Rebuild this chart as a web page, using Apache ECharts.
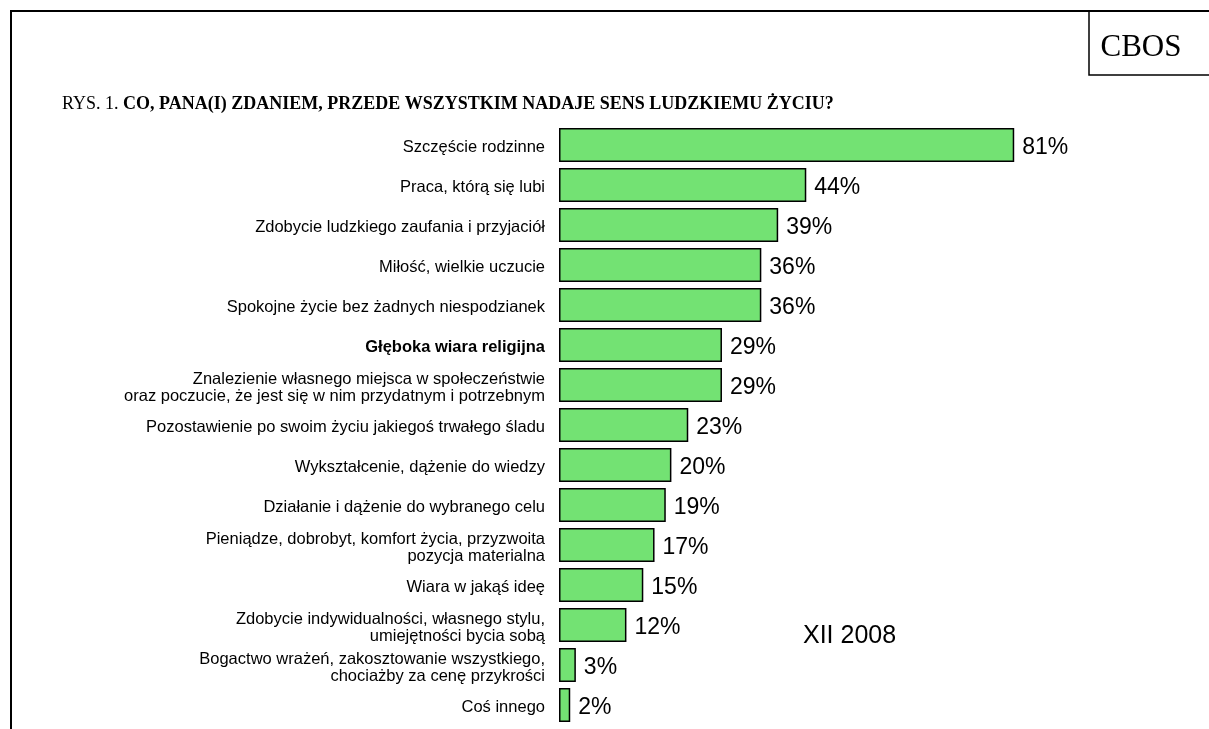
<!DOCTYPE html>
<html>
<head>
    <meta charset="utf-8">
    <title>CBOS - sens ludzkiego życia</title>
    <script src="https://cdn.jsdelivr.net/npm/echarts@6/dist/echarts.min.js"></script>
</head>
<body>

<style>
    html, body, #main {
        width: 100%;
        padding: 0;
        margin: 0;
        height: 100%;
        background: #fff;
    }
</style>

<div id="main"></div>

<script type="text/javascript">

    var categories = [
        'Szczęście rodzinne',
        'Praca, którą się lubi',
        'Zdobycie ludzkiego zaufania i przyjaciół',
        'Miłość, wielkie uczucie',
        'Spokojne życie bez żadnych niespodzianek',
        'Głęboka wiara religijna',
        'Znalezienie własnego miejsca w społeczeństwie\noraz poczucie, że jest się w nim przydatnym i potrzebnym',
        'Pozostawienie po swoim życiu jakiegoś trwałego śladu',
        'Wykształcenie, dążenie do wiedzy',
        'Działanie i dążenie do wybranego celu',
        'Pieniądze, dobrobyt, komfort życia, przyzwoita\npozycja materialna',
        'Wiara w jakąś ideę',
        'Zdobycie indywidualności, własnego stylu,\numiejętności bycia sobą',
        'Bogactwo wrażeń, zakosztowanie wszystkiego,\nchociażby za cenę przykrości',
        'Coś innego'
    ];
    var values = [81, 44, 39, 36, 36, 29, 29, 23, 20, 19, 17, 15, 12, 3, 2];
    var boldCategory = 'Głęboka wiara religijna';

    var myChart = echarts.init(document.getElementById('main'));

    myChart.setOption({
        animation: false,
        grid: {
            left: 559,
            top: 125,
            width: 562,
            height: 600
        },
        xAxis: {
            type: 'value',
            min: 0,
            max: 100,
            show: false
        },
        yAxis: {
            type: 'category',
            data: categories,
            inverse: true,
            axisLine: { show: false },
            axisTick: { show: false },
            axisLabel: {
                margin: 14,
                fontFamily: 'Liberation Sans, Arial',
                fontSize: 16.5,
                color: '#000',
                lineHeight: 17,
                padding: [5, 0, 0, 0],
                formatter: function (v) {
                    if (v === boldCategory) return '{b|' + v + '}';
                    return v;
                },
                rich: {
                    b: {
                        fontWeight: 'bold',
                        fontFamily: 'Liberation Sans, Arial',
                        fontSize: 16.5,
                        color: '#000'
                    }
                }
            }
        },
        series: [{
            type: 'bar',
            data: values,
            barCategoryGap: '15%',
            itemStyle: {
                color: '#73E273',
                borderColor: '#000',
                borderWidth: 1.5
            },
            label: {
                show: true,
                position: 'right',
                distance: 8,
                offset: [0, 3],
                formatter: '{c}%',
                fontFamily: 'Liberation Sans, Arial',
                fontSize: 23,
                color: '#000'
            }
        }],
        graphic: [
            {
                type: 'polyline',
                shape: { points: [[11, 729], [11, 11], [1209, 11]] },
                style: { stroke: '#000', lineWidth: 2, fill: null }
            },
            {
                type: 'polyline',
                shape: { points: [[1089, 11], [1089, 75], [1209, 75]] },
                style: { stroke: '#000', lineWidth: 1.5, fill: null }
            },
            {
                type: 'text',
                x: 1141,
                y: 48,
                style: {
                    text: 'CBOS',
                    font: '31px "Liberation Serif", "Times New Roman", serif',
                    fill: '#000',
                    align: 'center',
                    verticalAlign: 'middle'
                }
            },
            {
                type: 'text',
                left: 62,
                top: 95,
                style: {
                    text: '{n|RYS. 1. }{b|CO, PANA(I) ZDANIEM, PRZEDE WSZYSTKIM NADAJE SENS LUDZKIEMU ŻYCIU?}',
                    rich: {
                        n: {
                            fontFamily: 'Liberation Serif, Times New Roman, serif',
                            fontSize: 18,
                            fill: '#000'
                        },
                        b: {
                            fontFamily: 'Liberation Serif, Times New Roman, serif',
                            fontSize: 18,
                            fontWeight: 'bold',
                            fill: '#000'
                        }
                    }
                }
            },
            {
                type: 'text',
                left: 803,
                top: 624,
                style: {
                    text: 'XII 2008',
                    font: '25px "Liberation Sans", Arial, sans-serif',
                    fill: '#000'
                }
            }
        ]
    });

</script>

</body>
</html>
